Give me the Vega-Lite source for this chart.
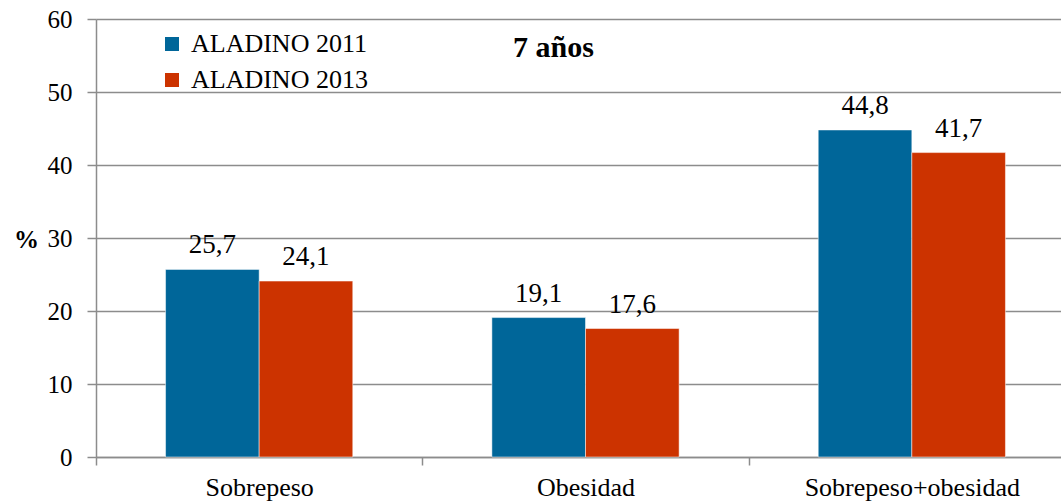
{
  "$schema": "https://vega.github.io/schema/vega-lite/v6.json",
  "autosize": "none",
  "width": 979,
  "height": 438,
  "padding": {"left": 96, "top": 19, "right": 0, "bottom": 47},
  "background": "white",
  "config": {
    "font": "Liberation Serif, Times New Roman, serif",
    "view": {"stroke": null},
    "locale": {"number": {"decimal": ",", "thousands": ".", "grouping": [3], "currency": ["", " €"]}}
  },
  "title": {
    "text": "7 años",
    "font": "Liberation Serif, Times New Roman, serif",
    "fontSize": 30,
    "fontWeight": "bold",
    "color": "black",
    "anchor": "middle",
    "baseline": "middle",
    "orient": "top",
    "offset": -71,
    "dx": -32
  },
  "data": {
    "values": [
      {"categoria": "Sobrepeso", "estudio": "ALADINO 2011", "valor": 25.7},
      {"categoria": "Sobrepeso", "estudio": "ALADINO 2013", "valor": 24.1},
      {"categoria": "Obesidad", "estudio": "ALADINO 2011", "valor": 19.1},
      {"categoria": "Obesidad", "estudio": "ALADINO 2013", "valor": 17.6},
      {"categoria": "Sobrepeso+obesidad", "estudio": "ALADINO 2011", "valor": 44.8},
      {"categoria": "Sobrepeso+obesidad", "estudio": "ALADINO 2013", "valor": 41.7}
    ]
  },
  "encoding": {
    "x": {
      "field": "categoria",
      "type": "nominal",
      "sort": ["Sobrepeso", "Obesidad", "Sobrepeso+obesidad"],
      "scale": {"paddingInner": 0, "paddingOuter": 0},
      "axis": {
        "title": null,
        "labelAngle": 0,
        "labelFont": "Liberation Serif, Times New Roman, serif",
        "labelFontSize": 26,
        "labelColor": "black",
        "labelLimit": 500,
        "labelPadding": 9,
        "tickBand": "extent",
        "tickSize": 8,
        "tickColor": "#8c8c8c",
        "domainColor": "#8c8c8c",
        "domainWidth": 1.5,
        "tickWidth": 1.5,
        "grid": false
      }
    },
    "xOffset": {"field": "estudio", "type": "nominal", "scale": {"paddingInner": 0, "paddingOuter": 0.743}},
    "y": {
      "field": "valor",
      "type": "quantitative",
      "scale": {"domain": [0, 60]},
      "axis": {
        "title": "%",
        "titleAngle": 0,
        "titleFont": "Liberation Serif, Times New Roman, serif",
        "titleFontSize": 25,
        "titleFontWeight": "bold",
        "titleColor": "black",
        "titleX": -70,
        "titleY": 220,
        "titleAlign": "center",
        "titleBaseline": "middle",
        "values": [0, 10, 20, 30, 40, 50, 60],
        "labelFont": "Liberation Serif, Times New Roman, serif",
        "labelFontSize": 25,
        "labelColor": "black",
        "labelPadding": 15,
        "tickSize": 9,
        "tickColor": "#8c8c8c",
        "tickWidth": 1.5,
        "domainColor": "#8c8c8c",
        "domainWidth": 1.5,
        "grid": true,
        "gridColor": "#8c8c8c",
        "gridWidth": 1.5
      }
    }
  },
  "layer": [
    {
      "mark": {"type": "bar", "stroke": "white", "strokeWidth": 0.5},
      "encoding": {
        "color": {
          "field": "estudio",
          "type": "nominal",
          "scale": {"domain": ["ALADINO 2011", "ALADINO 2013"], "range": ["#006699", "#cc3300"]},
          "legend": {
            "title": null,
            "orient": "none",
            "legendX": 63,
            "legendY": 12,
            "symbolType": "square",
            "symbolSize": 196,
            "symbolStrokeWidth": 0,
            "labelFont": "Liberation Serif, Times New Roman, serif",
            "labelFontSize": 26,
            "labelColor": "black",
            "labelLimit": 500,
            "labelOffset": 6,
            "rowPadding": 10
          }
        }
      }
    },
    {
      "mark": {"type": "text", "baseline": "bottom", "dy": -10, "font": "Liberation Serif, Times New Roman, serif", "fontSize": 27, "color": "black"},
      "encoding": {
        "text": {"field": "valor", "type": "quantitative", "format": ".1f"}
      }
    }
  ]
}
